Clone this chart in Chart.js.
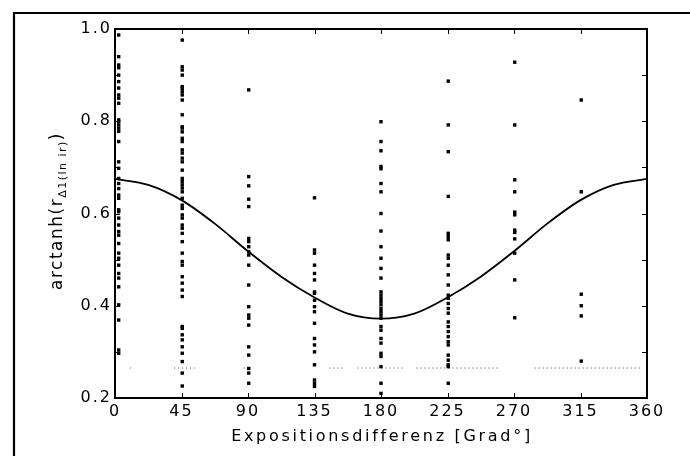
<!DOCTYPE html>
<html>
<head>
<meta charset="utf-8">
<script src="https://cdn.jsdelivr.net/npm/chart.js@4.4.1/dist/chart.umd.min.js"></script>
<style>
  html, body { margin: 0; padding: 0; background: #fff; }
  #c { display: block; }
</style>
</head>
<body>
<canvas id="c" width="690" height="456"></canvas>
<script>
// ---------- data ----------
const xTickValues = [0, 45, 90, 135, 180, 225, 270, 315, 360];
const columnAngles = [2.5, 45.5, 90.5, 135, 180, 225.5, 270.5, 315.5];

const values0 = [0.987, 0.940, 0.922, 0.916, 0.900, 0.886, 0.872, 0.857, 0.850, 0.839, 0.803, 0.799, 0.792, 0.785, 0.778, 0.756, 0.712, 0.698, 0.676, 0.665, 0.654, 0.640, 0.633, 0.608, 0.604, 0.590, 0.575, 0.561, 0.553, 0.535, 0.514, 0.503, 0.488, 0.470, 0.460, 0.441, 0.402, 0.369, 0.304, 0.297];
const values45 = [0.976, 0.918, 0.911, 0.900, 0.875, 0.871, 0.864, 0.857, 0.846, 0.814, 0.788, 0.785, 0.777, 0.763, 0.756, 0.738, 0.731, 0.720, 0.712, 0.694, 0.676, 0.669, 0.662, 0.655, 0.647, 0.633, 0.618, 0.611, 0.597, 0.590, 0.575, 0.568, 0.557, 0.539, 0.514, 0.496, 0.488, 0.463, 0.449, 0.434, 0.420, 0.355, 0.351, 0.337, 0.326, 0.311, 0.297, 0.279, 0.254, 0.226];
const values90 = [0.868, 0.680, 0.660, 0.631, 0.615, 0.546, 0.539, 0.528, 0.517, 0.510, 0.488, 0.445, 0.398, 0.380, 0.373, 0.358, 0.311, 0.293, 0.264, 0.254, 0.232];
const values135 = [0.634, 0.521, 0.514, 0.488, 0.470, 0.456, 0.430, 0.427, 0.412, 0.398, 0.387, 0.362, 0.329, 0.315, 0.300, 0.272, 0.239, 0.232, 0.225];
const values180 = [0.799, 0.756, 0.736, 0.702, 0.697, 0.665, 0.647, 0.600, 0.562, 0.528, 0.503, 0.481, 0.460, 0.430, 0.423, 0.416, 0.409, 0.402, 0.394, 0.387, 0.380, 0.373, 0.355, 0.347, 0.329, 0.319, 0.297, 0.290, 0.268, 0.232, 0.210];
const values225 = [0.887, 0.792, 0.734, 0.637, 0.557, 0.550, 0.543, 0.510, 0.503, 0.488, 0.467, 0.445, 0.423, 0.416, 0.405, 0.394, 0.384, 0.365, 0.355, 0.344, 0.333, 0.322, 0.315, 0.293, 0.282, 0.272, 0.268, 0.232];
const values270 = [0.928, 0.792, 0.673, 0.647, 0.603, 0.597, 0.564, 0.559, 0.545, 0.514, 0.456, 0.374];
const values315 = [0.846, 0.647, 0.425, 0.400, 0.378, 0.280];
const columnValues = [values0, values45, values90, values135, values180, values225, values270, values315];

const curveAngles = [0, 22.5, 45, 67.5, 90, 112.5, 135, 157.5, 180, 202.5, 225, 247.5, 270, 292.5, 315, 337.5, 360];
const curveValues = [0.675, 0.662, 0.629, 0.578, 0.518, 0.463, 0.418, 0.383, 0.372, 0.383, 0.418, 0.463, 0.518, 0.578, 0.629, 0.662, 0.675];

const thresholdValue = 0.265;
const thresholdSegments = [[10, 12], [40, 54], [87, 89], [145, 154], [164, 196], [204, 260], [284, 357]];

const xTitle = 'Expositionsdifferenz [Grad°]';

// ---------- build datasets ----------
const scatterPoints = [];
columnAngles.forEach((a, i) => columnValues[i].forEach(v => scatterPoints.push({ x: a, y: v })));
const curvePoints = curveAngles.map((a, i) => ({ x: a, y: curveValues[i] }));
const thresholdPoints = [];
thresholdSegments.forEach(([a, b]) => {
  thresholdPoints.push({ x: a, y: thresholdValue });
  thresholdPoints.push({ x: b, y: thresholdValue });
  thresholdPoints.push({ x: b + 0.5, y: null });
});

const FONT = '"DejaVu Sans", sans-serif';

const decorPlugin = {
  id: 'decor',
  beforeUpdate(chart) { chart.ctx.letterSpacing = '2px'; },
  beforeDraw(chart) {
    const ctx = chart.ctx;
    ctx.letterSpacing = '2px';
    ctx.save();
    ctx.fillStyle = '#fff';
    ctx.fillRect(0, 0, chart.width, chart.height);
    ctx.strokeStyle = '#000';
    ctx.lineWidth = 2.2;
    ctx.beginPath();
    ctx.moveTo(14, 456);
    ctx.lineTo(14, 13);
    ctx.lineTo(690, 13);
    ctx.stroke();
    ctx.restore();
  },
  afterDraw(chart) {
    const ctx = chart.ctx;
    const a = chart.chartArea;
    const xs = chart.scales.x, ys = chart.scales.y;
    ctx.save();
    ctx.strokeStyle = '#000';
    ctx.lineWidth = 1;
    ctx.beginPath();
    xs.ticks.forEach(t => {
      const px = Math.round(xs.getPixelForValue(t.value)) + 0.5;
      ctx.moveTo(px, a.top); ctx.lineTo(px, a.top + 5);
      ctx.moveTo(px, a.bottom); ctx.lineTo(px, a.bottom - 5);
    });
    ys.ticks.forEach(t => {
      const py = Math.round(ys.getPixelForValue(t.value)) + 0.5;
      ctx.moveTo(a.left, py); ctx.lineTo(a.left + 5, py);
      ctx.moveTo(a.right, py); ctx.lineTo(a.right - 5, py);
    });
    ctx.stroke();
    ctx.lineWidth = 2;
    ctx.strokeRect(a.left, a.top, a.right - a.left, a.bottom - a.top);

    ctx.fillStyle = '#000';
    ctx.letterSpacing = '2.7px';
    ctx.font = '16px ' + FONT;
    ctx.textAlign = 'center';
    ctx.textBaseline = 'middle';
    ctx.fillText(xTitle, (a.left + a.right) / 2 + 1, 437);

    const parts = [
      { t: 'arctanh(r', f: '17px ' + FONT, dy: 0 },
      { t: 'Δ1(ln ir)', f: '11px ' + FONT, dy: 5 },
      { t: ')', f: '17px ' + FONT, dy: 0 }
    ];
    ctx.letterSpacing = '1.5px';
    let total = 0;
    parts.forEach(p => { ctx.font = p.f; p.w = ctx.measureText(p.t).width; total += p.w; });
    ctx.translate(58, 211);
    ctx.rotate(-Math.PI / 2);
    ctx.textAlign = 'left';
    ctx.textBaseline = 'middle';
    let x = -total / 2;
    parts.forEach(p => { ctx.font = p.f; ctx.fillText(p.t, x, p.dy); x += p.w; });
    ctx.restore();
  }
};

new Chart(document.getElementById('c'), {
  type: 'scatter',
  data: {
    datasets: [
      {
        type: 'line',
        data: thresholdPoints,
        borderColor: '#444',
        borderWidth: 1,
        borderDash: [1, 3],
        pointRadius: 0,
        spanGaps: false,
        fill: false,
        order: 3
      },
      {
        type: 'line',
        data: curvePoints,
        borderColor: '#000',
        borderWidth: 1.8,
        pointRadius: 0,
        cubicInterpolationMode: 'monotone',
        fill: false,
        order: 1
      },
      {
        data: scatterPoints,
        pointStyle: 'rect',
        pointRadius: 2.4,
        backgroundColor: '#000',
        borderColor: '#000',
        borderWidth: 0,
        order: 2
      }
    ]
  },
  options: {
    responsive: false,
    animation: false,
    devicePixelRatio: 1,
    layout: { padding: { left: 0, top: 29, right: 43, bottom: 0 } },
    plugins: { legend: { display: false }, tooltip: { enabled: false } },
    scales: {
      x: {
        type: 'linear',
        min: 0, max: 360,
        afterFit(s) { s.height = 58; },
        afterBuildTicks(s) { s.ticks = xTickValues.map(v => ({ value: v })); },
        grid: { display: false, drawTicks: false },
        border: { display: false },
        ticks: {
          color: '#000',
          font: { family: FONT, size: 16 },
          padding: 4,
          maxRotation: 0,
          autoSkip: false,
          callback: v => String(v)
        }
      },
      y: {
        min: 0.2, max: 1.0,
        afterFit(s) { s.width = 115; },
        grid: { display: false, drawTicks: false },
        border: { display: false },
        ticks: {
          stepSize: 0.1,
          color: '#000',
          font: { family: FONT, size: 16 },
          padding: 3,
          autoSkip: false,
          callback: v => (Math.round(v * 10) % 2 === 0 ? v.toFixed(1) : '')
        }
      }
    }
  },
  plugins: [decorPlugin]
});
</script>
</body>
</html>
